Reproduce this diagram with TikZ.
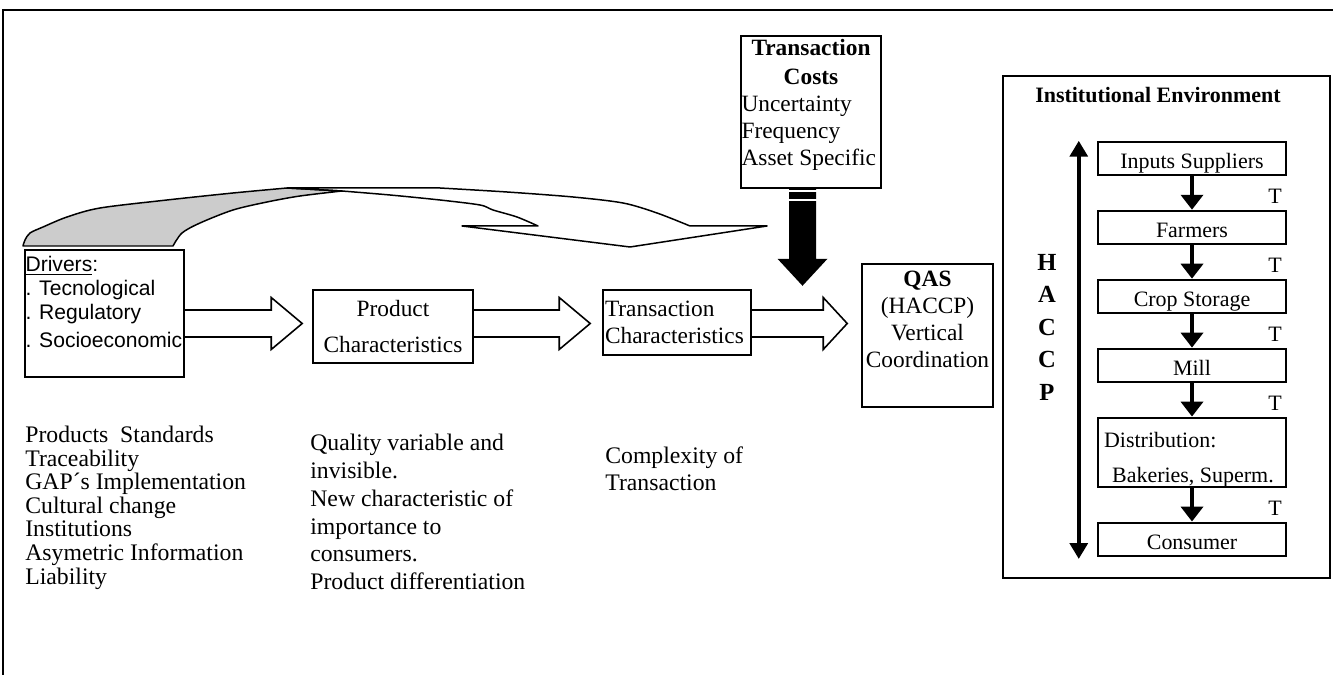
\documentclass[tikz,border=0pt]{standalone}
\usepackage{fontspec}
\setmainfont{Liberation Serif}
\newfontfamily\arialfont{Liberation Sans}
\usepackage{tikz}
\usetikzlibrary{positioning}
\usetikzlibrary{calc,arrows.meta}
\newlength{\unitpx}
\setlength{\unitpx}{0.02cm}
% tail, tip, head length
\newcommand{\blockarrow}[3]{\draw[blockarr] ($(#1)+(0,-13.5)$) -- ($(#2)+(-#3,-13.5)$) -- ($(#2)+(-#3,-26)$) -- (#2) -- ($(#2)+(-#3,26)$) -- ($(#2)+(-#3,13.5)$) -- ($(#1)+(0,13.5)$);}

\begin{document}
\begin{tikzpicture}[x=0.02cm,y=-0.02cm,
 box/.style={draw,line width=0.9pt,inner sep=0pt},
 link/.style={draw,line width=1.4pt,minimum width=188\unitpx,inner xsep=0pt,inner ysep=1\unitpx,text height=26\unitpx,text depth=5\unitpx,font=\fontsize{12.5}{14}\selectfont},
 blockarr/.style={line width=0.9pt,line join=miter},
 txt/.style={inner sep=0pt,align=left,anchor=north west}]
 \useasboundingbox (0,0) rectangle (1333,675);
 \draw[line width=0.9pt] (3,675) -- (3,10) -- (1333,10);
%left part
 \node[box,minimum width=159\unitpx,minimum height=127\unitpx] (drv) at (104.5,313.5) {};
 \node[txt,font=\arialfont\fontsize{12}{13.6}\selectfont] (drvtxt) at ($(drv.north west)+(1,7)$) {\underline{Drivers}:\\. Tecnological\\. Regulatory\\[2.3pt]. Socioeconomic};
 \node[box,minimum width=160\unitpx,minimum height=73\unitpx,align=center,font=\fontsize{13.3}{20}\selectfont] (prod) at (393,326.5) {Product\\Characteristics};
 \node[box,minimum width=148\unitpx,minimum height=65\unitpx,text width=144\unitpx,align=left,font=\fontsize{13.3}{15.4}\selectfont] (trch) at (677,322.5) {Transaction\\Characteristics};
 \node[box,minimum width=140\unitpx,minimum height=152\unitpx] (tc) at (811,112) {};
 \node[inner sep=0pt,align=center,anchor=north,font=\bfseries\fontsize{13.3}{16.5}\selectfont] (tctitle) at ($(tc.north)+(0,3.5)$) {Transaction\\Costs};
 \node[txt,font=\fontsize{13.3}{15.4}\selectfont] (tcbody) at ($(tc.north west)+(1,60)$) {Uncertainty\\Frequency\\Asset Specific};
 \node[box,minimum width=131\unitpx,minimum height=143\unitpx] (qas) at (927.5,335.5) {};
 \node[inner sep=0pt,align=center,anchor=north,font=\fontsize{13.3}{15.4}\selectfont] (qastxt) at ($(qas.north)+(0,7.5)$) {\textbf{QAS}\\(HACCP)\\Vertical\\Coordination};
%block arrows
 \coordinate (mid) at (0,323.5);
 \coordinate (a1) at (drv.east |- mid);
 \coordinate (b1) at ($(prod.west |- mid)+(-10,0)$);
 \coordinate (a2) at (prod.east |- mid);
 \coordinate (b2) at ($(trch.west |- mid)+(-12,0)$);
 \coordinate (a3) at (trch.east |- mid);
 \coordinate (b3) at ($(qas.west |- mid)+(-14,0)$);
 \blockarrow{a1}{b1}{31}
 \blockarrow{a2}{b2}{31}
 \blockarrow{a3}{b3}{24}
 \coordinate (cs) at ($(tc.south)+(-8.5,0)$);
 \fill (cs) ++(-13.5,0) -- ++(0,70) -- ++(-11.5,0) -- ++(25,27) -- ++(25,-27) -- ++(-11.5,0) -- ++(0,-70) -- cycle;
 \draw[white,line width=1.1pt] ($(cs)+(-14,2.5)$) -- ($(cs)+(14,2.5)$);
 \draw[white,line width=1.1pt] ($(cs)+(-14,11)$) -- ($(cs)+(14,11)$);
%curved arrow
 \filldraw[fill=black!20,line width=0.85pt,line join=round] plot[smooth] coordinates {(23,246) (25,240) (30,233) (43,227) (67,217) (100,208) (167,200) (233,193) (287,188)} -- (342,191) -- plot[smooth] coordinates {(342,191) (300,196) (267,202) (233,210) (200,223) (182,233) (173,246)} -- cycle;
 \draw[line width=0.85pt,line join=round] (287,188) -- plot[smooth] coordinates {(440,188) (507,192) (573,197) (623,203) (657,213) (690,226)} -- (767,226) -- (630,247) -- (462,226) -- plot[smooth] coordinates {(538,226) (517,217) (493,210) (480,205) (440,200) (390,195) (342,191)} -- cycle;
%lists
 \node[txt,font=\fontsize{13.5}{13.4}\selectfont] (std) at (25,426) {Products~ Standards\\Traceability\\GAP´s Implementation\\Cultural change\\Institutions\\Asymetric Information\\Liability};
 \node[txt,font=\fontsize{13.5}{15.8}\selectfont] (qual) at (310,434) {Quality variable and\\invisible.\\New characteristic of\\importance to\\consumers.\\Product differentiation};
 \node[txt,font=\fontsize{13.5}{15.9}\selectfont] (cplx) at (605,446) {Complexity of\\Transaction};
%right part
 \node[draw,line width=1.6pt,minimum width=327\unitpx,minimum height=502\unitpx,inner sep=0pt] (inst) at (1166.5,327) {};
 \node[font=\bfseries\fontsize{12.5}{14}\selectfont] (insttitle) at (1158,95) {Institutional Environment};
 \node[font=\bfseries\fontsize{14}{18.5}\selectfont,align=center] (haccp) at (1047,327) {H\\A\\C\\C\\P};
 \node[link] (inp) at (1192,158.5) {Inputs Suppliers};
 \node[link,below=0.67cm of inp] (farm) {Farmers};
 \node[link,below=0.67cm of farm] (crop) {Crop Storage};
 \node[link,below=0.67cm of crop] (mill) {Mill};
 \node[link,below=0.67cm of mill,minimum height=69\unitpx] (dist) {};
 \node[link,below=0.67cm of dist] (cons) {Consumer};
 \node[txt,font=\fontsize{12.5}{14}\selectfont] (distA) at ($(dist.north west)+(7,15.5)$) {Distribution:};
 \node[txt,font=\fontsize{12.5}{14}\selectfont] (distB) at ($(dist.north west)+(15,50)$) {Bakeries, Superm.};
 \foreach \a/\b in {inp/farm,farm/crop,crop/mill,mill/dist,dist/cons}{
  \draw[line width=2.3pt,-{Triangle[width=12.5pt,length=8.5pt]}] (\a.south) -- (\b.north);
  \node[anchor=base,inner sep=0pt,font=\fontsize{12.5}{14}\selectfont] (t\b) at ($(\b.north)+(83,-6)$) {T};
 }
 \coordinate (htop) at ($(inp.north west)+(-18,0)$);
 \coordinate (hbot) at ($(cons.south west)+(-18,2)$);
 \draw[line width=2.3pt,{Triangle[width=10pt,length=9pt]}-{Triangle[width=10pt,length=9pt]}] (htop) -- (hbot);
\end{tikzpicture}
\end{document}
